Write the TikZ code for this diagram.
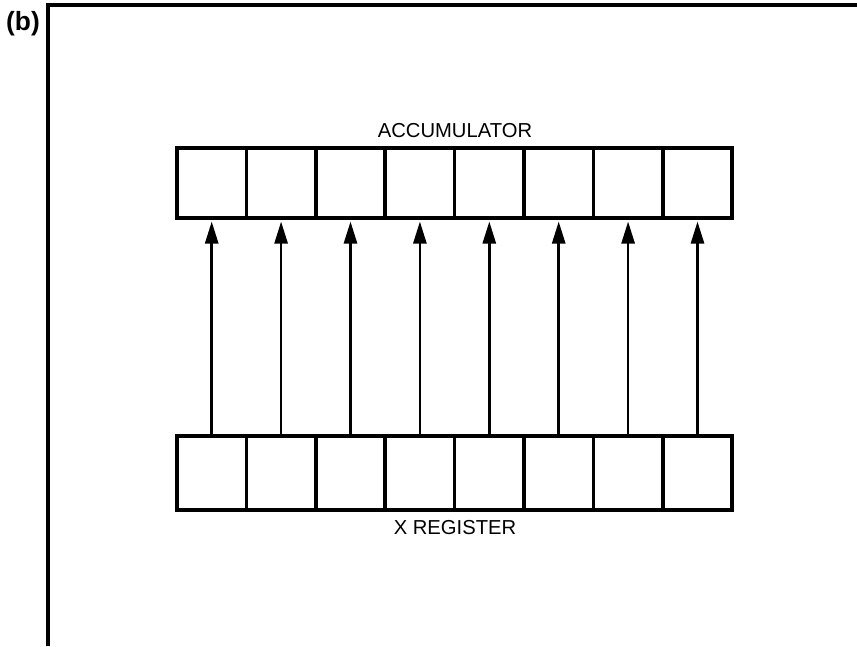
\documentclass[tikz,border=0pt]{standalone}
\usepackage{fontspec}
\setmainfont{Liberation Sans}
\usepackage{tikz}
\usetikzlibrary{arrows.meta}

\begin{document}
\begin{tikzpicture}
      \useasboundingbox(0,0) rectangle (17.14,12.92);
      \tikzset{C/.style = {shape=rectangle, draw, line width=2pt, minimum width=1.388cm, inner sep=0pt}}
      \tikzset{E/.style = {draw, line width=1.5pt, -{Triangle[length=0.44cm,width=0.26cm]}, shorten >=1pt}}
      \tikzset{L/.style = {font=\fontsize{11.5}{13}\selectfont}}
      % frame
      \draw[line width=2.2pt] (0.96,0) -- (0.96,12.82) -- (17.14,12.82);
      \node[font=\bfseries\fontsize{15}{17}\selectfont](tag) at (0.46,12.45) {(b)};
      % accumulator
      \node[L](acc) at (9.1,10.31) {ACCUMULATOR};
      \node[C,minimum height=1.4cm](a0) at (4.234,9.26) {};
      \node[C,minimum height=1.4cm](a1) at (5.622,9.26) {};
      \node[C,minimum height=1.4cm](a2) at (7.010,9.26) {};
      \node[C,minimum height=1.4cm](a3) at (8.398,9.26) {};
      \node[C,minimum height=1.4cm](a4) at (9.786,9.26) {};
      \node[C,minimum height=1.4cm](a5) at (11.174,9.26) {};
      \node[C,minimum height=1.4cm](a6) at (12.562,9.26) {};
      \node[C,minimum height=1.4cm](a7) at (13.950,9.26) {};
      % x register
      \node[C,minimum height=1.48cm](x0) at (4.234,3.46) {};
      \node[C,minimum height=1.48cm](x1) at (5.622,3.46) {};
      \node[C,minimum height=1.48cm](x2) at (7.010,3.46) {};
      \node[C,minimum height=1.48cm](x3) at (8.398,3.46) {};
      \node[C,minimum height=1.48cm](x4) at (9.786,3.46) {};
      \node[C,minimum height=1.48cm](x5) at (11.174,3.46) {};
      \node[C,minimum height=1.48cm](x6) at (12.562,3.46) {};
      \node[C,minimum height=1.48cm](x7) at (13.950,3.46) {};
      \node[L](xreg) at (9.1,2.36) {X REGISTER};
      % transfers
      \draw[E](x0) to (a0);
      \draw[E](x1) to (a1);
      \draw[E](x2) to (a2);
      \draw[E](x3) to (a3);
      \draw[E](x4) to (a4);
      \draw[E](x5) to (a5);
      \draw[E](x6) to (a6);
      \draw[E](x7) to (a7);
\end{tikzpicture}
\end{document}
